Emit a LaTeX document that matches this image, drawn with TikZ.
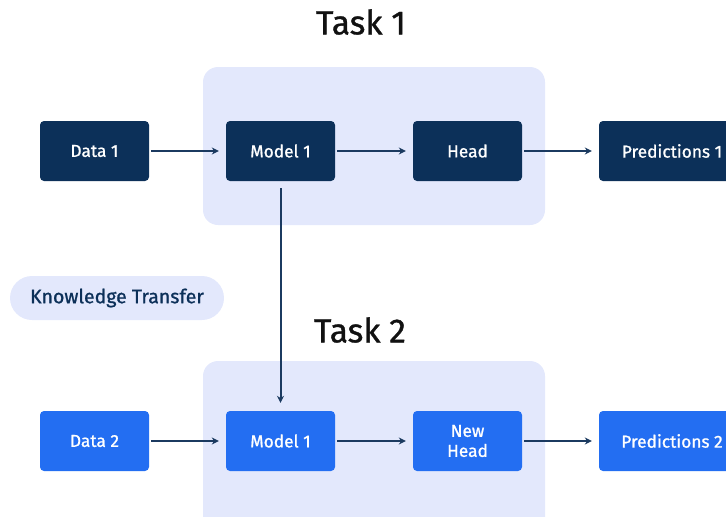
\documentclass[tikz,border=0pt]{standalone}
\usepackage{fontspec}
\setmainfont{Fira Sans}
\newfontfamily\medfont{Fira Sans}[FakeBold=1.0]
\usetikzlibrary{arrows.meta}

\definecolor{navy}{HTML}{0C3059}
\definecolor{brightblue}{HTML}{236EF2}
\definecolor{lavender}{HTML}{E3E8FC}
\definecolor{arrowcol}{HTML}{1B3A60}
\definecolor{titlecol}{HTML}{111111}

\tikzset{
	darkbox/.style={fill=navy, text=white, rounded corners=4pt, minimum width=109pt, minimum height=60pt, align=center, font=\medfont\fontsize{17.3}{20}\selectfont},
	bluebox/.style={darkbox, fill=brightblue},
	panel/.style={fill=lavender, rounded corners=15pt},
	flow/.style={draw=arrowcol, line width=2pt, -{Stealth[length=7pt,width=7pt]}, shorten <=2pt, shorten >=7pt},
	tasktitle/.style={text=titlecol, font=\medfont\fontsize{33.5}{36}\selectfont}
}

\begin{document}
\begin{tikzpicture}[x=1pt, y=-1pt]
				\useasboundingbox (0,0) rectangle (726,517);

				% panels behind the rows
				\fill[panel] (203,67) rectangle (545,225);
				\fill[panel] (203,361) rectangle (545,540);

				\node[tasktitle] (title1) at (361,22) {Task 1};
				\node[tasktitle] (title2) at (360,330) {Task 2};

				\node[fill=lavender, text=navy, rounded corners=22pt, minimum width=214pt, minimum height=44pt, font=\medfont\fontsize{19.5}{20}\selectfont] (transfer) at (117,298) {Knowledge Transfer};

				% first task
				\node[darkbox] (data1) at (94.5,151) {Data 1};
				\node[darkbox] (model1) at (280.5,151) {Model 1};
				\node[darkbox] (head1) at (467.5,151) {Head};
				\node[darkbox, minimum width=146pt] (pred1) at (672,151) {Predictions 1};

				% second task
				\node[bluebox] (data2) at (94.5,441) {Data 2};
				\node[bluebox] (model2) at (280.5,441) {Model 1};
				\node[bluebox] (head2) at (467.5,441) {New\\Head};
				\node[bluebox, minimum width=146pt] (pred2) at (672,441) {Predictions 2};

				\draw[flow] (data1) -- (model1);
				\draw[flow] (model1) -- (head1);
				\draw[flow] (head1) -- (pred1);
				\draw[flow] (data2) -- (model2);
				\draw[flow] (model2) -- (head2);
				\draw[flow] (head2) -- (pred2);
				\draw[flow, shorten <=7pt, shorten >=8pt] (model1) -- (model2);
			\end{tikzpicture}
\end{document}
